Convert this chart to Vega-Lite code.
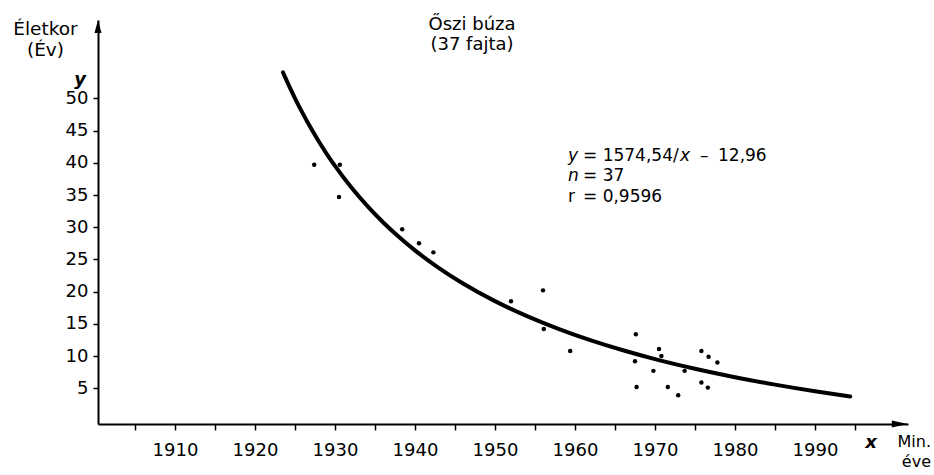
{
  "$schema": "https://vega.github.io/schema/vega-lite/v6.json",
  "width": 810,
  "height": 404,
  "autosize": {"type": "none"},
  "padding": {"left": 98, "top": 20, "right": 26, "bottom": 51},
  "background": "white",
  "config": {
    "view": {"stroke": null},
    "axis": {"grid": false, "domainColor": "black", "domainWidth": 2, "tickColor": "black", "tickWidth": 1.5, "labelColor": "black", "labelFont": "DejaVu Sans", "labelFontSize": 18},
    "text": {"font": "DejaVu Sans", "color": "black", "fontSize": 17, "baseline": "alphabetic"}
  },
  "datasets": {
    "curve": [
      {"year": 1923.5, "value": 54.04}, {"year": 1924, "value": 52.65}, {"year": 1925, "value": 50.02},
      {"year": 1926, "value": 47.60}, {"year": 1927, "value": 45.36}, {"year": 1928, "value": 43.27},
      {"year": 1929, "value": 41.33}, {"year": 1930, "value": 39.52}, {"year": 1932, "value": 36.24},
      {"year": 1934, "value": 33.35}, {"year": 1936, "value": 30.78}, {"year": 1938, "value": 28.48},
      {"year": 1940, "value": 26.40}, {"year": 1943, "value": 23.66}, {"year": 1946, "value": 21.27},
      {"year": 1950, "value": 18.53}, {"year": 1954, "value": 16.20}, {"year": 1958, "value": 14.19},
      {"year": 1962, "value": 12.44}, {"year": 1966, "value": 10.90}, {"year": 1970, "value": 9.53},
      {"year": 1975, "value": 8.03}, {"year": 1980, "value": 6.72}, {"year": 1985, "value": 5.56},
      {"year": 1990, "value": 4.53}, {"year": 1994.4, "value": 3.72}
    ],
    "points": [
      {"year": 1927.4, "value": 39.7}, {"year": 1930.6, "value": 39.7}, {"year": 1930.5, "value": 34.7},
      {"year": 1938.4, "value": 29.7}, {"year": 1940.5, "value": 27.5}, {"year": 1942.3, "value": 26.1},
      {"year": 1952.0, "value": 18.5}, {"year": 1956.0, "value": 20.2}, {"year": 1956.1, "value": 14.2},
      {"year": 1959.4, "value": 10.8}, {"year": 1967.6, "value": 13.4}, {"year": 1970.5, "value": 11.1},
      {"year": 1967.5, "value": 9.2}, {"year": 1969.8, "value": 7.7}, {"year": 1967.7, "value": 5.2},
      {"year": 1971.6, "value": 5.2}, {"year": 1972.9, "value": 3.9}, {"year": 1973.7, "value": 7.7},
      {"year": 1975.8, "value": 10.8}, {"year": 1976.7, "value": 9.9}, {"year": 1977.8, "value": 9.0},
      {"year": 1975.8, "value": 5.9}, {"year": 1976.6, "value": 5.1}, {"year": 1970.8, "value": 10.0}
    ]
  },
  "layer": [
    {
      "data": {"name": "curve"},
      "mark": {"type": "line", "color": "black", "strokeWidth": 4, "interpolate": "monotone", "strokeCap": "round"},
      "encoding": {
        "x": {"field": "year", "type": "quantitative", "title": null,
          "scale": {"domain": [1900.375, 2001.625], "nice": false, "zero": false},
          "axis": {"values": [1905, 1910, 1915, 1920, 1925, 1930, 1935, 1940, 1945, 1950, 1955, 1960, 1965, 1970, 1975, 1980, 1985, 1990, 1995],
            "tickSize": 6, "labelPadding": 11, "labelOverlap": false, "labelFlush": false,
            "labelExpr": "datum.value % 10 == 0 ? format(datum.value, 'd') : ''"}},
        "y": {"field": "value", "type": "quantitative", "title": null,
          "scale": {"domain": [-0.55, 62.18], "nice": false, "zero": false},
          "axis": {"values": [5, 10, 15, 20, 25, 30, 35, 40, 45, 50], "tickSize": 5, "labelPadding": 5, "labelOverlap": false}}
      }
    },
    {
      "data": {"name": "points"},
      "mark": {"type": "circle", "color": "black", "size": 20, "opacity": 1},
      "encoding": {
        "x": {"field": "year", "type": "quantitative", "title": null},
        "y": {"field": "value", "type": "quantitative", "title": null}
      }
    },
    {
      "data": {"values": [{}]},
      "mark": {"type": "point", "shape": "M0,-1L0.54,1L-0.54,1Z", "size": 169, "filled": true, "color": "black", "opacity": 1},
      "encoding": {"x": {"datum": 1900.375, "type": "quantitative", "title": null}, "y": {"datum": 61.18, "type": "quantitative", "title": null}}
    },
    {
      "data": {"values": [{}]},
      "mark": {"type": "point", "shape": "M1,0L-1,0.45L-1,-0.45Z", "size": 256, "filled": true, "color": "black", "opacity": 1},
      "encoding": {"x": {"datum": 2000.6, "type": "quantitative", "title": null}, "y": {"datum": -0.55, "type": "quantitative", "title": null}}
    },
    {
      "data": {"values": [{}]},
      "mark": {"type": "text", "text": "Őszi búza", "align": "center", "fontSize": 18},
      "encoding": {"x": {"datum": 1947.125, "type": "quantitative", "title": null}, "y": {"datum": 60.64, "type": "quantitative", "title": null}}
    },
    {
      "data": {"values": [{}]},
      "mark": {"type": "text", "text": "(37 fajta)", "align": "center", "fontSize": 18},
      "encoding": {"x": {"datum": 1947.125, "type": "quantitative", "title": null}, "y": {"datum": 57.53, "type": "quantitative", "title": null}}
    },
    {
      "data": {"values": [{}]},
      "mark": {"type": "text", "text": "Életkor", "align": "center", "fontSize": 18.5},
      "encoding": {"x": {"datum": 1893.81, "type": "quantitative", "title": null}, "y": {"datum": 59.86, "type": "quantitative", "title": null}}
    },
    {
      "data": {"values": [{}]},
      "mark": {"type": "text", "text": "(Év)", "align": "center", "fontSize": 18.5},
      "encoding": {"x": {"datum": 1893.81, "type": "quantitative", "title": null}, "y": {"datum": 56.6, "type": "quantitative", "title": null}}
    },
    {
      "data": {"values": [{}]},
      "mark": {"type": "text", "text": "y", "align": "center", "fontStyle": "italic", "fontWeight": "bold", "fontSize": 18},
      "encoding": {"x": {"datum": 1898.125, "type": "quantitative", "title": null}, "y": {"datum": 52.1, "type": "quantitative", "title": null}}
    },
    {
      "data": {"values": [{}]},
      "mark": {"type": "text", "text": "x", "align": "center", "fontStyle": "italic", "fontWeight": "bold", "fontSize": 18},
      "encoding": {"x": {"datum": 1997.0, "type": "quantitative", "title": null}, "y": {"datum": -4.27, "type": "quantitative", "title": null}}
    },
    {
      "data": {"values": [{}]},
      "mark": {"type": "text", "text": "Min.", "align": "right", "fontSize": 16},
      "encoding": {"x": {"datum": 2004.5, "type": "quantitative", "title": null}, "y": {"datum": -4.11, "type": "quantitative", "title": null}}
    },
    {
      "data": {"values": [{}]},
      "mark": {"type": "text", "text": "éve", "align": "right", "fontSize": 16},
      "encoding": {"x": {"datum": 2004.5, "type": "quantitative", "title": null}, "y": {"datum": -7.3, "type": "quantitative", "title": null}}
    },
    {
      "data": {"values": [{}]},
      "mark": {"type": "text", "text": "y", "align": "left", "fontStyle": "italic"},
      "encoding": {"x": {"datum": 1959.125, "type": "quantitative", "title": null}, "y": {"datum": 40.28, "type": "quantitative", "title": null}}
    },
    {
      "data": {"values": [{}]},
      "mark": {"type": "text", "text": "= 1574,54/", "align": "left"},
      "encoding": {"x": {"datum": 1961.0, "type": "quantitative", "title": null}, "y": {"datum": 40.28, "type": "quantitative", "title": null}}
    },
    {
      "data": {"values": [{}]},
      "mark": {"type": "text", "text": "x", "align": "left", "fontStyle": "italic"},
      "encoding": {"x": {"datum": 1973.125, "type": "quantitative", "title": null}, "y": {"datum": 40.28, "type": "quantitative", "title": null}}
    },
    {
      "data": {"values": [{}]},
      "mark": {"type": "text", "text": "–", "align": "left"},
      "encoding": {"x": {"datum": 1975.625, "type": "quantitative", "title": null}, "y": {"datum": 40.28, "type": "quantitative", "title": null}}
    },
    {
      "data": {"values": [{}]},
      "mark": {"type": "text", "text": "12,96", "align": "left"},
      "encoding": {"x": {"datum": 1977.875, "type": "quantitative", "title": null}, "y": {"datum": 40.28, "type": "quantitative", "title": null}}
    },
    {
      "data": {"values": [{}]},
      "mark": {"type": "text", "text": "n", "align": "left", "fontStyle": "italic"},
      "encoding": {"x": {"datum": 1959.125, "type": "quantitative", "title": null}, "y": {"datum": 37.18, "type": "quantitative", "title": null}}
    },
    {
      "data": {"values": [{}]},
      "mark": {"type": "text", "text": "= 37", "align": "left"},
      "encoding": {"x": {"datum": 1961.0, "type": "quantitative", "title": null}, "y": {"datum": 37.18, "type": "quantitative", "title": null}}
    },
    {
      "data": {"values": [{}]},
      "mark": {"type": "text", "text": "r", "align": "left"},
      "encoding": {"x": {"datum": 1959.125, "type": "quantitative", "title": null}, "y": {"datum": 33.93, "type": "quantitative", "title": null}}
    },
    {
      "data": {"values": [{}]},
      "mark": {"type": "text", "text": "= 0,9596", "align": "left"},
      "encoding": {"x": {"datum": 1961.0, "type": "quantitative", "title": null}, "y": {"datum": 33.93, "type": "quantitative", "title": null}}
    }
  ]
}
